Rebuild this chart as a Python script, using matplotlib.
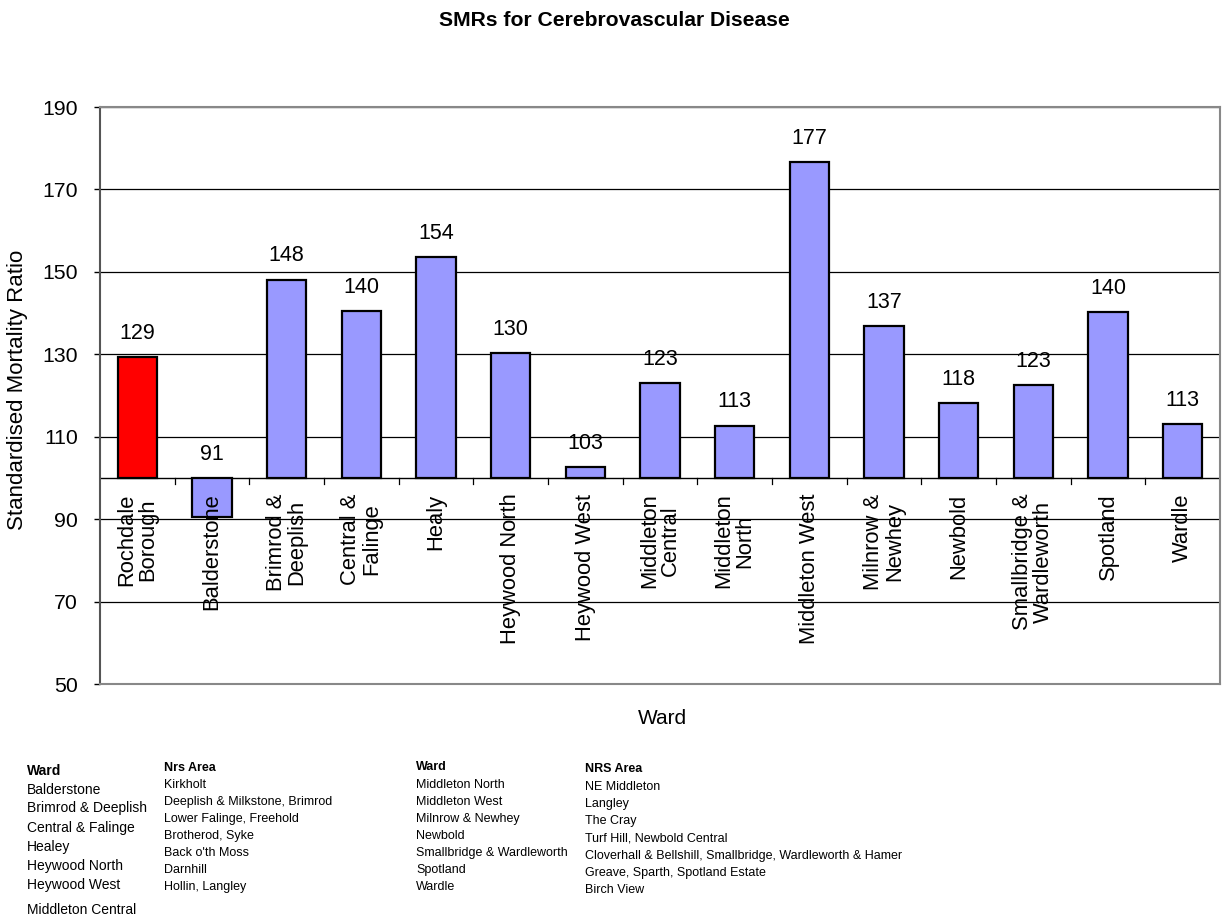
import matplotlib
matplotlib.use("Agg")
import matplotlib.pyplot as plt
import numpy as np

plt.rcParams['font.family'] = ['Liberation Sans', 'DejaVu Sans']

categories = ["Rochdale\nBorough", "Balderstone", "Brimrod &\nDeeplish", "Central &\nFalinge",
              "Healy", "Heywood North", "Heywood West", "Middleton\nCentral", "Middleton\nNorth",
              "Middleton West", "Milnrow &\nNewhey", "Newbold", "Smallbridge &\nWardleworth",
              "Spotland", "Wardle"]
smr = [129.4, 90.6, 148.1, 140.4, 153.6, 130.3, 102.7, 123.0, 112.7, 176.7, 136.8, 118.2, 122.6, 140.3, 113.1]
labels = ["129", "91", "148", "140", "154", "130", "103", "123", "113", "177", "137", "118", "123", "140", "113"]
colors = ["#FF0000"] + ["#9999FF"] * 14
baseline = 100
yticks = [50, 70, 90, 110, 130, 150, 170, 190]

ward_col1 = ["Balderstone", "Brimrod & Deeplish", "Central & Falinge", "Healey",
             "Heywood North", "Heywood West", "Middleton Central"]
nrs_col1 = ["Kirkholt", "Deeplish & Milkstone, Brimrod", "Lower Falinge, Freehold",
            "Brotherod, Syke", "Back o'th Moss", "Darnhill", "Hollin, Langley"]
ward_col2 = ["Middleton North", "Middleton West", "Milnrow & Newhey", "Newbold",
             "Smallbridge & Wardleworth", "Spotland", "Wardle"]
nrs_col2 = ["NE Middleton", "Langley", "The Cray", "Turf Hill, Newbold Central",
            "Cloverhall & Bellshill, Smallbridge, Wardleworth & Hamer",
            "Greave, Sparth, Spotland Estate", "Birch View"]

W, H = 1225, 918
fig = plt.figure(figsize=(W / 100, H / 100), dpi=100)
ax = fig.add_axes([100 / W, 1 - 684 / H, 1120 / W, 577 / H])

x = np.arange(len(categories))
heights = [v - baseline for v in smr]
ax.bar(x, heights, bottom=baseline, width=0.53, color=colors, edgecolor='black', linewidth=1.6, zorder=3)

for xi, v, lab in zip(x, smr, labels):
    ax.text(xi, max(v, baseline) + 3.2, lab, ha='center', va='bottom', fontsize=15.5, zorder=4)

ax.set_ylim(50, 190)
ax.set_xlim(-0.5, len(categories) - 0.5)
ax.set_yticks(yticks)
ax.tick_params(axis='y', labelsize=15.3, length=4, width=1, direction='out', pad=12)
ax.yaxis.grid(True, color='black', linewidth=0.9, zorder=0)
ax.set_axisbelow(True)
ax.set_ylabel("Standardised Mortality Ratio", fontsize=16)
ax.yaxis.set_label_coords(-0.064, 0.51)

# category axis at baseline
ax.set_xticks([])
ax.axhline(baseline, color='black', linewidth=1.0, zorder=2)
for b in np.arange(0.5, len(categories) - 0.5, 1.0):
    ax.plot([b, b], [baseline, baseline - 1.5], color='black', linewidth=0.9, zorder=2, clip_on=False)
for xi, cat in zip(x, categories):
    ax.text(xi, baseline - 3.8, cat, rotation=90, ha='center', va='top', fontsize=15.8,
            multialignment='center', linespacing=1.0, zorder=5)

for s in ['top', 'right', 'bottom']:
    ax.spines[s].set_color('#888888')
    ax.spines[s].set_linewidth(1.5)
ax.spines['left'].set_color('#555555')
ax.spines['left'].set_linewidth(1.5)

fig.text(614 / W, 1 - 20 / H, "SMRs for Cerebrovascular Disease", ha='center', va='center',
         fontsize=15.2, fontweight='bold')
fig.text(662 / W, 1 - 719 / H, "Ward", ha='center', va='center', fontsize=15)

# bottom lookup table
fig.text(27 / W, 1 - 771 / H, "Ward", fontsize=10, fontweight='bold', va='center')
ys1 = [790, 808, 828, 847, 866, 885, 910]
for t, yy in zip(ward_col1, ys1):
    fig.text(27 / W, 1 - yy / H, t, fontsize=10, va='center')
fig.text(164 / W, 1 - 768 / H, "Nrs Area", fontsize=9, fontweight='bold', va='center')
for i, t in enumerate(nrs_col1):
    fig.text(164 / W, 1 - (785 + 17 * i) / H, t, fontsize=9, va='center')
fig.text(416 / W, 1 - 767 / H, "Ward", fontsize=9, fontweight='bold', va='center')
for i, t in enumerate(ward_col2):
    fig.text(416 / W, 1 - (785 + 17 * i) / H, t, fontsize=9, va='center')
fig.text(585 / W, 1 - 769 / H, "NRS Area", fontsize=9, fontweight='bold', va='center')
for i, t in enumerate(nrs_col2):
    fig.text(585 / W, 1 - (787 + 17.2 * i) / H, t, fontsize=9, va='center')

fig.savefig("out.png", dpi=100, facecolor='white')
